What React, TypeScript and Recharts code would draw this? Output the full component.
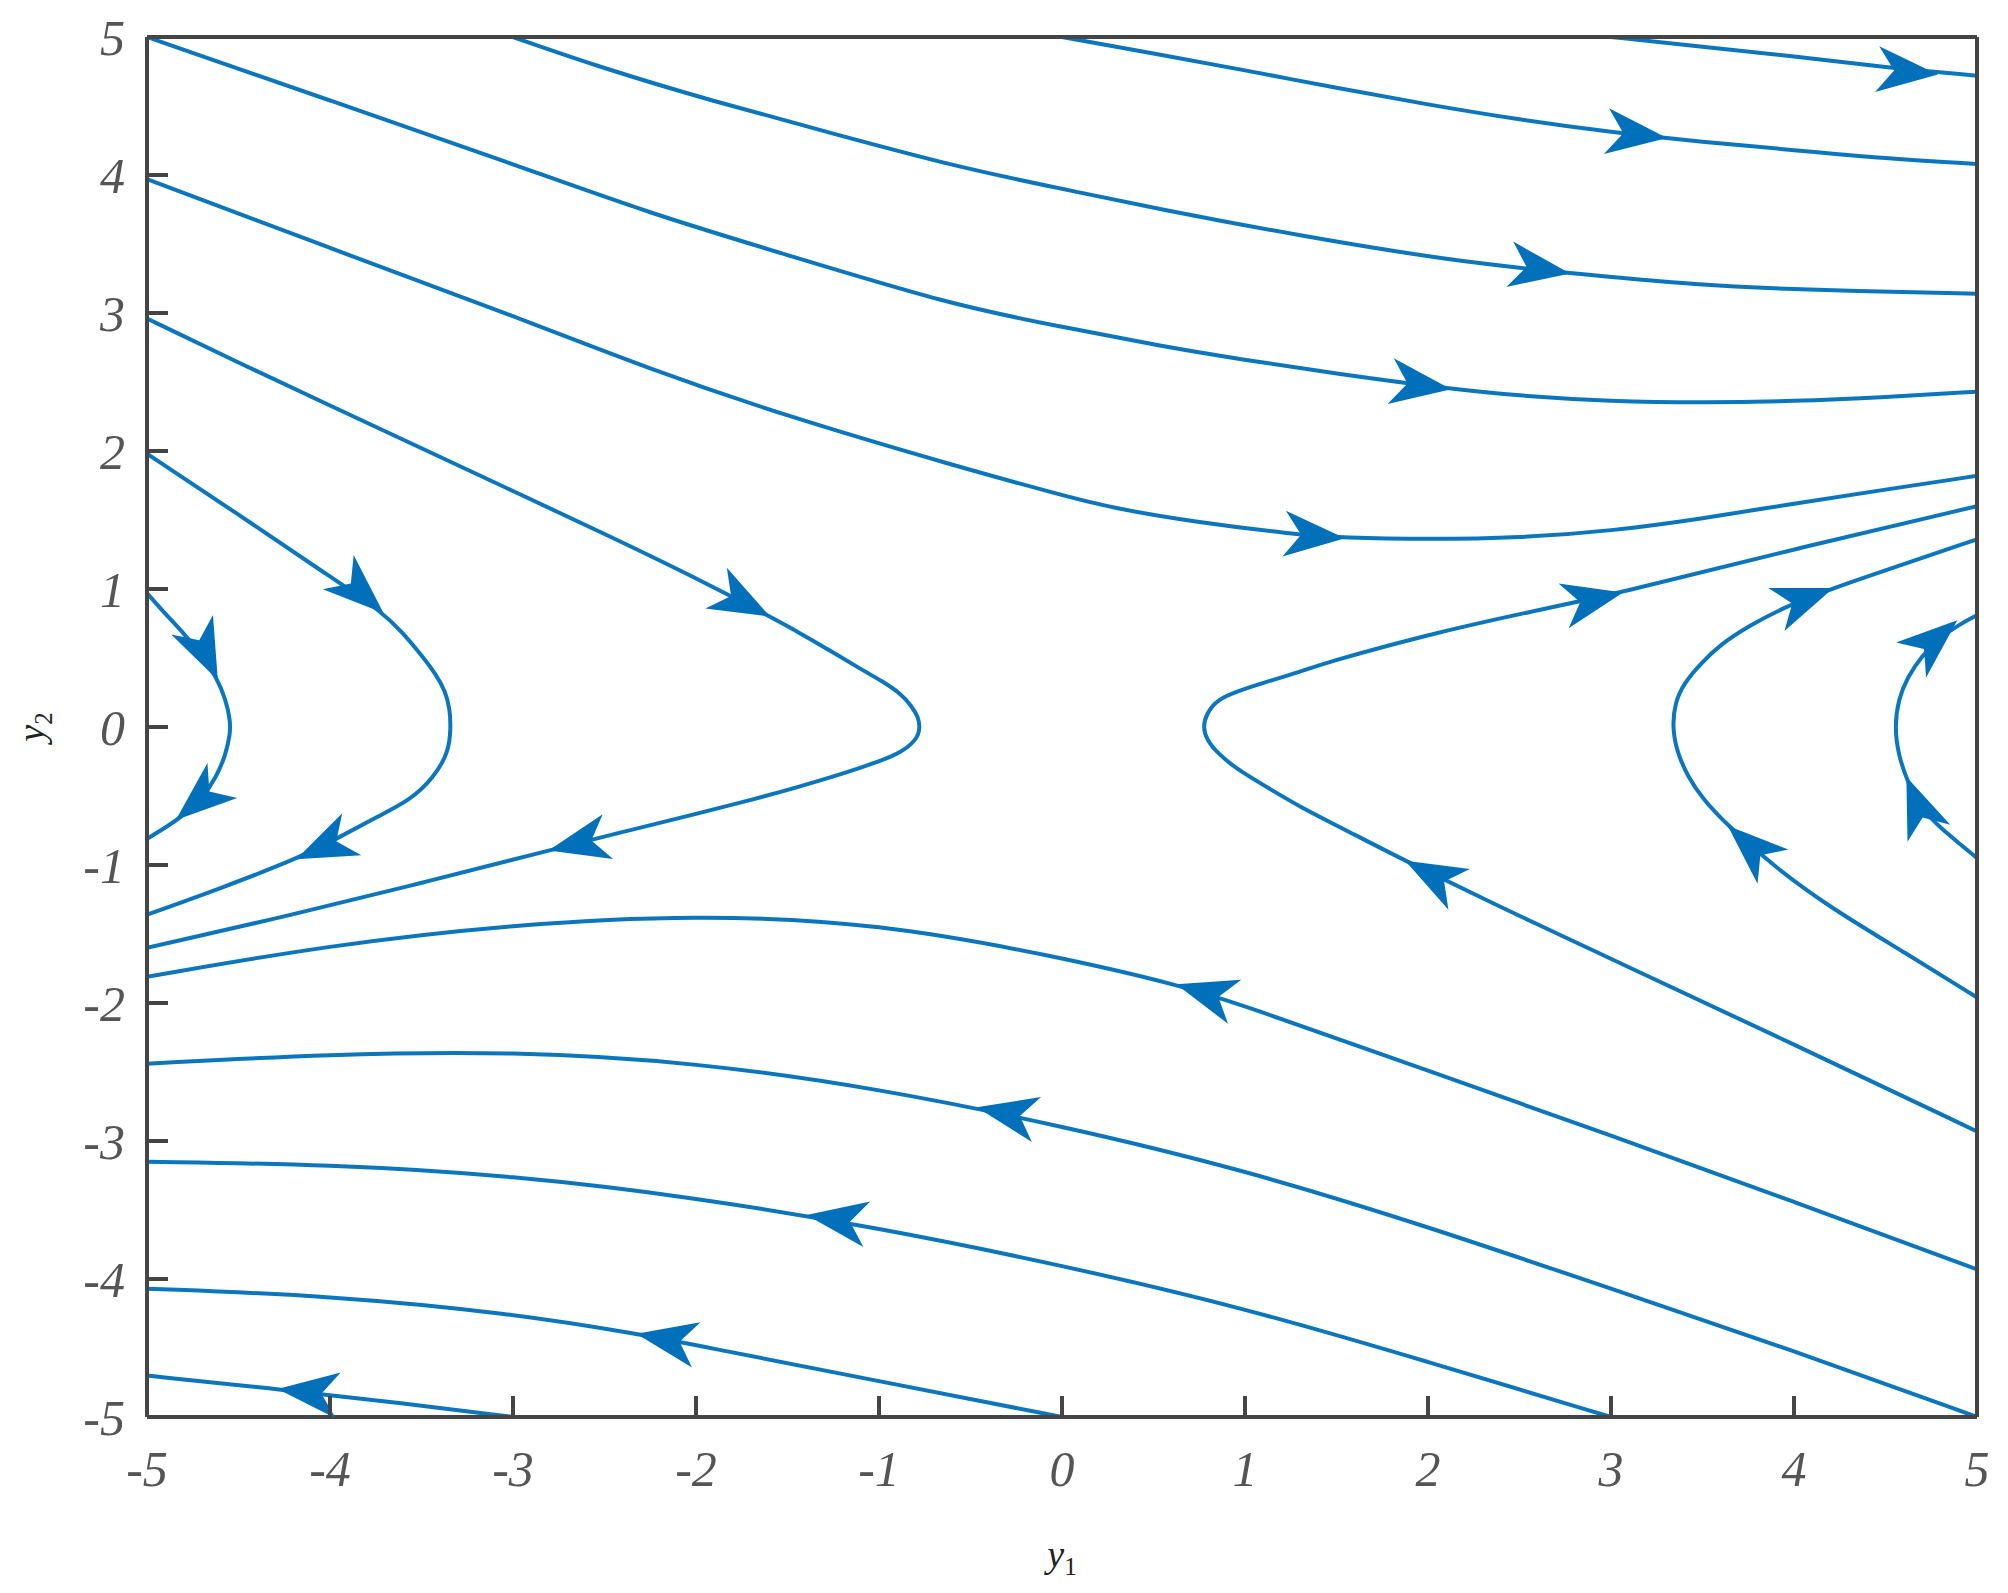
import React from 'react';
import { ComposedChart, Line, Scatter, XAxis, YAxis } from 'recharts';

const curveA = [[0, 5], [0.5, 4.88], [1, 4.76], [1.5, 4.63], [2, 4.51], [2.5, 4.4], [3, 4.31], [3.5, 4.24], [4, 4.18], [4.5, 4.12], [5, 4.08]];
const curveB = [[3, 5], [3.5, 4.93], [4, 4.86], [4.5, 4.78], [5, 4.72]];
const curveC = [[-3, 5], [-2.5, 4.77], [-1.92, 4.54], [-1.25, 4.3], [-0.58, 4.06], [0, 3.9], [0.54, 3.75], [1.3, 3.56], [2.12, 3.38], [2.76, 3.29], [3.5, 3.2], [4, 3.17], [5, 3.14]];
const curveD = [[-5, 5], [-4, 4.54], [-3, 4.08], [-2.25, 3.72], [-1.5, 3.42], [-0.58, 3.05], [0, 2.9], [0.54, 2.76], [1, 2.66], [1.5, 2.56], [2.12, 2.45], [2.5, 2.4], [3, 2.36], [3.5, 2.35], [4, 2.36], [4.5, 2.39], [5, 2.43]];
const curveE = [[-5, 3.97], [-4, 3.47], [-3, 2.98], [-2.25, 2.59], [-1.5, 2.25], [-0.58, 1.89], [0, 1.68], [0.26, 1.59], [0.75, 1.48], [1.25, 1.4], [1.54, 1.37], [2, 1.36], [2.5, 1.37], [3, 1.42], [3.5, 1.51], [4, 1.62], [4.5, 1.72], [5, 1.82]];
const curveF = [[-5, 2.96], [-4.5, 2.64], [-4, 2.33], [-3.5, 2.02], [-3, 1.71], [-2.5, 1.4], [-2, 1.08], [-1.61, 0.81], [-1.43, 0.68], [-1.25, 0.54], [-1.1, 0.42], [-0.98, 0.33], [-0.885, 0.246], [-0.82, 0.15], [-0.785, 0.07], [-0.776, 0], [-0.79, -0.09], [-0.885, -0.19], [-1, -0.25], [-1.2, -0.34], [-1.43, -0.43], [-1.7, -0.53], [-2, -0.63], [-2.4, -0.76], [-2.79, -0.89], [-3.5, -1.13], [-4.2, -1.36], [-5, -1.6]];
const curveG = [[-5, 1.98], [-4.5, 1.54], [-4, 1.09], [-3.72, 0.84], [-3.6, 0.68], [-3.5, 0.52], [-3.42, 0.38], [-3.37, 0.26], [-3.345, 0.13], [-3.34, 0], [-3.35, -0.18], [-3.435, -0.37], [-3.56, -0.53], [-3.756, -0.66], [-3.95, -0.8], [-4.17, -0.95], [-4.6, -1.17], [-5, -1.36]];
const curveH = [[-5, 0.97], [-4.9, 0.82], [-4.8, 0.68], [-4.7, 0.52], [-4.62, 0.36], [-4.57, 0.2], [-4.545, 0.05], [-4.545, -0.05], [-4.57, -0.2], [-4.62, -0.36], [-4.7, -0.52], [-4.8, -0.64], [-4.9, -0.73], [-5, -0.81]];
const curveF2 = [[5, -2.93], [4, -2.3], [3, -1.68], [2.5, -1.37], [1.89, -0.98], [1.6, -0.78], [1.3, -0.58], [1.1, -0.42], [0.95, -0.3], [0.85, -0.19], [0.79, -0.09], [0.77, 0], [0.79, 0.1], [0.85, 0.2], [0.96, 0.26], [1.1, 0.32], [1.3, 0.4], [1.45, 0.47], [2, 0.67], [2.5, 0.82], [3.05, 0.97], [4, 1.29], [5, 1.6]];
const curveG2 = [[5, -1.96], [4.6, -1.63], [4.2, -1.31], [3.9, -1.02], [3.65, -0.73], [3.5, -0.52], [3.42, -0.36], [3.36, -0.18], [3.335, 0], [3.35, 0.18], [3.4, 0.32], [3.49, 0.46], [3.6, 0.6], [3.75, 0.73], [3.95, 0.87], [4.2, 1.0], [4.6, 1.18], [5, 1.36]];
const curveH2 = [[5, -0.95], [4.9, -0.84], [4.8, -0.73], [4.7, -0.6], [4.62, -0.4], [4.57, -0.2], [4.55, 0], [4.57, 0.2], [4.62, 0.36], [4.7, 0.52], [4.8, 0.65], [4.9, 0.74], [5, 0.81]];
const curveI = [[-5, -1.81], [-4, -1.58], [-3, -1.43], [-2, -1.36], [-1, -1.42], [0, -1.67], [0.64, -1.87], [1, -2.02], [2, -2.49], [3, -2.96], [4, -3.44], [5, -3.93]];
const curveJ = [[-5, -2.44], [-4, -2.37], [-3, -2.35], [-2, -2.43], [-1, -2.62], [0, -2.89], [1, -3.21], [2, -3.62], [3, -4.07], [4, -4.52], [5, -5]];
const curveK = [[-5, -3.15], [-4, -3.17], [-3, -3.25], [-2, -3.41], [-1, -3.63], [0, -3.9], [1, -4.21], [2, -4.6], [3, -5]];
const curveL = [[-5, -4.07], [-4, -4.12], [-3, -4.25], [-2.31, -4.4], [-2, -4.48], [-1, -4.74], [0, -5]];
const curveM = [[-5, -4.7], [-4.27, -4.8], [-3.6, -4.9], [-3, -5]];

const curves = [curveA, curveB, curveC, curveD, curveE, curveF, curveG, curveH, curveF2, curveG2, curveH2, curveI, curveJ, curveK, curveL, curveM];

// arrow tips: position and flow direction (data units)
const arrowTips = [
  { x: 4.77, y: 4.73, dx: 1, dy: -0.12 },
  { x: 3.29, y: 4.27, dx: 1, dy: -0.15 },
  { x: 2.76, y: 3.29, dx: 1, dy: -0.2 },
  { x: 2.11, y: 2.45, dx: 1, dy: -0.18 },
  { x: 1.53, y: 1.37, dx: 1, dy: -0.1 },
  { x: -1.61, y: 0.81, dx: 1, dy: -0.7 },
  { x: -2.79, y: -0.89, dx: -1, dy: -0.31 },
  { x: -3.72, y: 0.84, dx: 1, dy: -1.2 },
  { x: -4.17, y: -0.95, dx: -1, dy: -0.6 },
  { x: -4.62, y: 0.36, dx: 0.35, dy: -1 },
  { x: -4.83, y: -0.66, dx: -0.8, dy: -0.9 },
  { x: 3.05, y: 0.97, dx: 1, dy: 0.3 },
  { x: 1.89, y: -0.98, dx: -1, dy: 0.7 },
  { x: 4.2, y: 1.0, dx: 1, dy: 0.5 },
  { x: 3.65, y: -0.73, dx: -1, dy: 1.2 },
  { x: 4.88, y: 0.76, dx: 0.7, dy: 0.8 },
  { x: 4.62, y: -0.38, dx: -0.3, dy: 1 },
  { x: 0.64, y: -1.87, dx: -1, dy: 0.4 },
  { x: -0.45, y: -2.76, dx: -1, dy: 0.27 },
  { x: -1.38, y: -3.54, dx: -1, dy: 0.2 },
  { x: -2.31, y: -4.4, dx: -1, dy: 0.25 },
  { x: -4.27, y: -4.8, dx: -1, dy: 0.14 },
];

const ticks = [-5, -4, -3, -2, -1, 0, 1, 2, 3, 4, 5];

const BLUE = '#0b76bd';
const AXIS = '#454545';
const PLOT_W = 1830;
const PLOT_H = 1380;
const PX = PLOT_W / 10;
const PY = PLOT_H / 10;
const TICK_LEN = 21;

const toPts = (c: number[][]) => c.map(([x, y]) => ({ x, y }));

const Arrow = (props: any) => {
  const { cx, cy, payload } = props;
  if (cx == null || cy == null) return null;
  const ang = (Math.atan2(-payload.dy * PY, payload.dx * PX) * 180) / Math.PI;
  return (
    <path
      transform={`translate(${cx},${cy}) rotate(${ang})`}
      d="M3,0 L-58,-23 L-41,0 L-58,23 Z"
      fill="#0070bb"
    />
  );
};

const tickFont = { fontFamily: '"Liberation Serif", "DejaVu Serif", serif', fontStyle: 'italic', fontSize: 50, fill: '#555' };

const BottomTick = (props: any) => (
  <g>
    <path d={`M${props.x},${props.y}V${props.y - TICK_LEN}`} stroke={AXIS} strokeWidth={4} fill="none" />
    <text x={props.x} y={props.y + 33} dy="0.71em" textAnchor="middle" {...tickFont}>
      {String(props.payload.value)}
    </text>
  </g>
);

const LeftTick = (props: any) => (
  <g>
    <path d={`M${props.x},${props.y}H${props.x + TICK_LEN}`} stroke={AXIS} strokeWidth={4} fill="none" />
    <text x={props.x - 22} y={props.y} dy="0.35em" textAnchor="end" {...tickFont}>
      {String(props.payload.value)}
    </text>
  </g>
);

const TopTick = (props: any) => (
  <path d={`M${props.x},${props.y}V${props.y + TICK_LEN}`} stroke={AXIS} strokeWidth={4} fill="none" />
);

const RightTick = (props: any) => (
  <path d={`M${props.x},${props.y}H${props.x - TICK_LEN}`} stroke={AXIS} strokeWidth={4} fill="none" />
);

const labelFont = { fontFamily: '"Liberation Serif", serif', fontSize: 38, fill: '#222' };

const YLabel = (props: any) => {
  const vb = props.viewBox || {};
  const x = vb.x + 36;
  const y = vb.y + vb.height / 2;
  return (
    <text transform={`translate(${x},${y}) rotate(-90)`} textAnchor="middle" {...labelFont}>
      <tspan fontStyle="italic">y</tspan>
      <tspan fontSize={25} dy={8}>2</tspan>
    </text>
  );
};

const XLabel = (props: any) => {
  const vb = props.viewBox || {};
  const x = vb.x + vb.width / 2;
  const y = vb.y + 150;
  return (
    <text x={x} y={y} textAnchor="middle" {...labelFont}>
      <tspan fontStyle="italic">y</tspan>
      <tspan fontSize={25} dy={8}>1</tspan>
    </text>
  );
};

const axisLine = { stroke: AXIS, strokeWidth: 4 };

export default function App() {
  return (
    <div style={{ width: 2000, height: 1585, background: '#fff' }}>
      <ComposedChart width={2000} height={1585} margin={{ top: 28, right: 30, left: 0, bottom: 0 }}>
        <XAxis
          type="number"
          dataKey="x"
          domain={[-5, 5]}
          ticks={ticks}
          allowDataOverflow
          height={176}
          tickSize={0}
          tickMargin={0}
          tickLine={false}
          tick={<BottomTick />}
          axisLine={axisLine}
          label={(p: any) => <XLabel {...p} />}
        />
        <XAxis
          xAxisId="top"
          orientation="top"
          type="number"
          dataKey="x"
          domain={[-5, 5]}
          ticks={ticks}
          height={1}
          tickSize={0}
          tickMargin={0}
          tickLine={false}
          tick={<TopTick />}
          axisLine={axisLine}
        />
        <YAxis
          type="number"
          dataKey="y"
          domain={[-5, 5]}
          ticks={ticks}
          allowDataOverflow
          width={139}
          tickSize={0}
          tickMargin={0}
          tickLine={false}
          tick={<LeftTick />}
          axisLine={axisLine}
          label={(p: any) => <YLabel {...p} />}
        />
        <YAxis
          yAxisId="right"
          orientation="right"
          type="number"
          domain={[-5, 5]}
          ticks={ticks}
          width={1}
          tickSize={0}
          tickMargin={0}
          tickLine={false}
          tick={<RightTick />}
          axisLine={axisLine}
        />
        {curves.map((c, i) => (
          <Line
            key={i}
            data={toPts(c)}
            dataKey="y"
            type="basis"
            stroke={BLUE}
            strokeWidth={4}
            dot={false}
            activeDot={false}
            isAnimationActive={false}
          />
        ))}
        <Scatter data={arrowTips} dataKey="y" shape={Arrow} isAnimationActive={false} />
      </ComposedChart>
    </div>
  );
}
